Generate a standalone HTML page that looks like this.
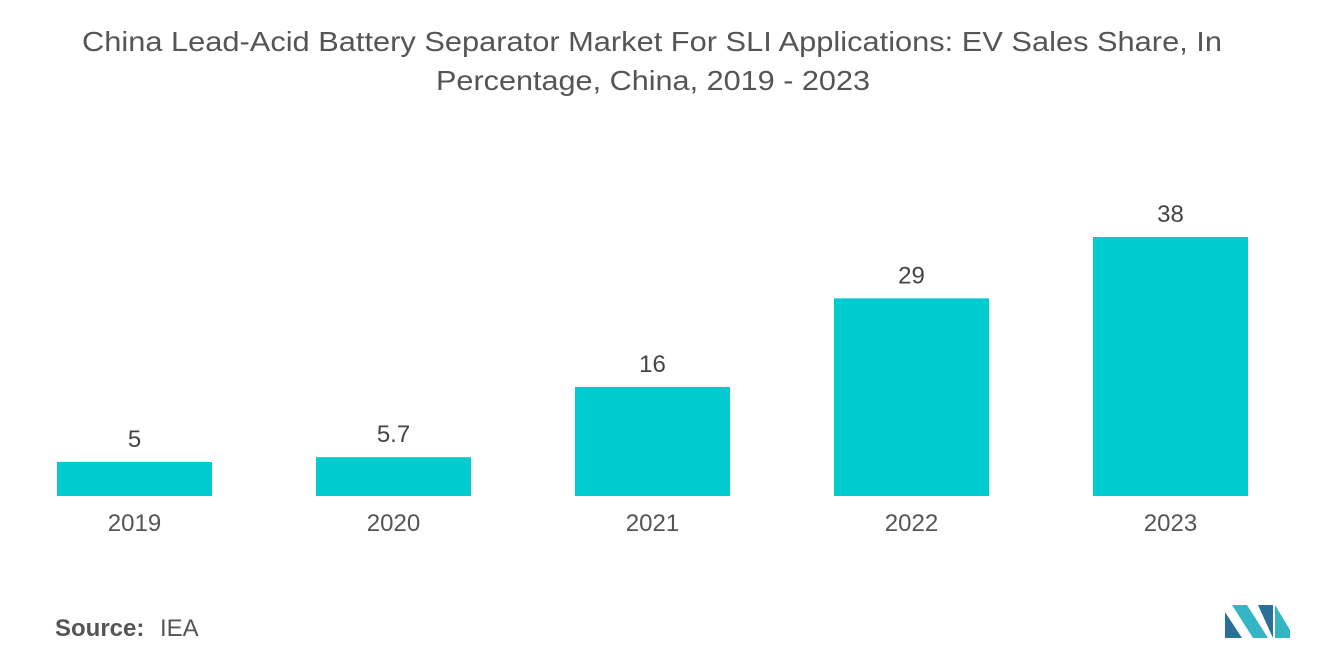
<!DOCTYPE html>
<html><head><meta charset="utf-8"><style>
body{margin:0;width:1320px;height:665px;background:#fff;font-family:"Liberation Sans",sans-serif;overflow:hidden}
</style></head><body>
<svg width="1320" height="665">
<text x="82" y="51" font-size="28" fill="#555" textLength="1140" lengthAdjust="spacingAndGlyphs">China Lead-Acid Battery Separator Market For SLI Applications: EV Sales Share, In</text>
<text x="436" y="90" font-size="28" fill="#555" textLength="434" lengthAdjust="spacingAndGlyphs">Percentage, China, 2019 - 2023</text>
<g id="bars"></g>
<text x="55" y="636" font-size="24" fill="#555" font-weight="bold">Source:</text>
<text x="160" y="636" font-size="24" fill="#555">IEA</text>
<g>
<polygon points="1225,638 1225,612 1242,638" fill="#2a6f97"/>
<polygon points="1232,605 1247,605 1268,638 1253,638" fill="#33b5c4"/>
<polygon points="1258,605 1273,605 1273,638" fill="#2a6f97"/>
<polygon points="1275,605 1290,630 1290,638 1275,638" fill="#33b5c4"/>
</g>
</svg>
<script>
const categories=["2019","2020","2021","2022","2023"];
const values=[5,5.7,16,29,38];
const labels=["5","5.7","16","29","38"];
const g=document.getElementById('bars');
const ns="http://www.w3.org/2000/svg";
const base=496,scale=259/38,x0=57,step=259,bw=155;
function y(v){return base-v*scale;}
categories.forEach((c,i)=>{
  const x=x0+i*step;
  const r=document.createElementNS(ns,'rect');
  r.setAttribute('x',x);r.setAttribute('y',y(values[i]));r.setAttribute('width',bw);r.setAttribute('height',base-y(values[i]));r.setAttribute('fill','#00cccf');
  
  
  g.appendChild(r);
  const t=document.createElementNS(ns,'text');
  t.setAttribute('x',x+bw/2);t.setAttribute('y',y(values[i])-15);t.setAttribute('text-anchor','middle');t.setAttribute('font-size','24');t.setAttribute('fill','#444');
  t.textContent=labels[i];
  
  
  g.appendChild(t);
  const a=document.createElementNS(ns,'text');
  a.setAttribute('x',x+bw/2);a.setAttribute('y',531);a.setAttribute('text-anchor','middle');a.setAttribute('font-size','24');a.setAttribute('fill','#555');
  a.textContent=c;
  
  
  g.appendChild(a);
});
</script>
</body></html>
